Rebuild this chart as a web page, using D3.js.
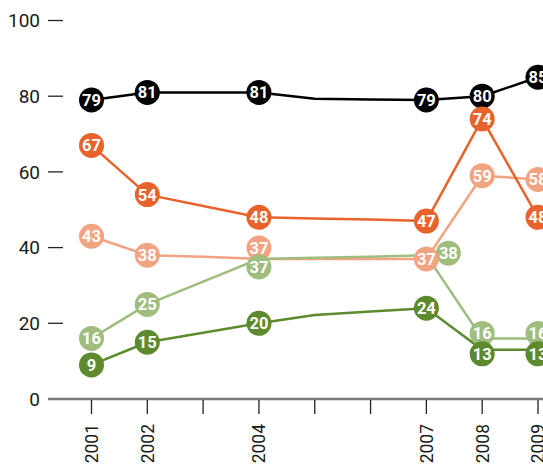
<!DOCTYPE html>
<html><head><meta charset="utf-8">
<script src="https://cdn.jsdelivr.net/npm/d3@7/dist/d3.min.js"></script>
<style>
html,body{margin:0;padding:0;background:#fff;}
svg{display:block;}
</style></head>
<body>
<svg id="chart" width="543" height="464"></svg>
<script>
// ---- data ----
const years = [2001, 2002, 2003, 2004, 2005, 2006, 2007, 2008, 2009];
const labeledYears = [2001, 2002, 2004, 2007, 2008, 2009];
const yTicks = [0, 20, 40, 60, 80, 100];
const blackValues       = [79, 81, 81, 81, 79.3, 79.1, 79, 80, 85];
const orangeValues      = [67, 54, 51, 48, 47.7, 47.4, 47, 74, 48];
const lightOrangeValues = [43, 38, 37.6, 37, 37, 37, 37, 59, 58];
const lightGreenValues  = [16, 25, 31, 37, 37.3, 37.6, 38, 16, 16];
const darkGreenValues   = [9, 15, 17.5, 20, 22.2, 23.1, 24, 13, 13];

// ---- layout / style ----
const series = [
  {name: "black", values: blackValues, color: "#000000"},
  {name: "lightOrange", values: lightOrangeValues, color: "#f2a381"},
  {name: "lightGreen", values: lightGreenValues, color: "#9fbd7f"},
  {name: "orange", values: orangeValues, color: "#e8632b"},
  {name: "darkGreen", values: darkGreenValues, color: "#5c8a2c"}
];
// label-avoidance nudges (pixels) for overlapping markers
const markerNudges = [
  {name: "lightOrange", year: 2004, dx: 0, dy: -11},
  {name: "lightGreen", year: 2004, dx: 0, dy: 8},
  {name: "lightGreen", year: 2007, dx: 22, dy: -2},
  {name: "lightGreen", year: 2008, dx: 0, dy: -5},
  {name: "lightGreen", year: 2009, dx: 0, dy: -5},
  {name: "darkGreen", year: 2008, dx: 0, dy: 4},
  {name: "darkGreen", year: 2009, dx: 0, dy: 4}
];

const svg = d3.select("#chart");
const x = d3.scaleLinear().domain([2001, 2009]).range([91.5, 538]);
const y = d3.scaleLinear().domain([0, 100]).range([399, 20.5]);
const font = "Roboto, 'DejaVu Sans', sans-serif";

// y axis: labels + short dashes
const yAxis = svg.append("g");
yTicks.forEach(t => {
  yAxis.append("line").attr("x1", 48).attr("x2", 63)
    .attr("y1", y(t)).attr("y2", y(t))
    .attr("stroke", "#222").attr("stroke-width", 1.3);
  yAxis.append("text").attr("x", 40).attr("y", y(t))
    .attr("dy", "0.36em").attr("text-anchor", "end")
    .attr("font-family", font).attr("font-weight", 400)
    .attr("font-size", 19).attr("fill", "#1a1a1a").text(t);
});

// x axis
const xg = svg.append("g");
xg.append("line").attr("x1", 48).attr("x2", 543)
  .attr("y1", y(0)).attr("y2", y(0))
  .attr("stroke", "#7a7a7a").attr("stroke-width", 2.5);
years.forEach(yr => {
  xg.append("line").attr("x1", x(yr)).attr("x2", x(yr))
    .attr("y1", y(0) + 1).attr("y2", y(0) + 15)
    .attr("stroke", "#222").attr("stroke-width", 1.3);
});
labeledYears.forEach(yr => {
  xg.append("text")
    .attr("transform", `translate(${x(yr)},${y(0) + 25}) rotate(-90)`)
    .attr("text-anchor", "end").attr("dy", "0.36em")
    .attr("font-family", font).attr("font-weight", 400)
    .attr("font-size", 17.5).attr("fill", "#1a1a1a").text(yr);
});

// lines
const line = d3.line().x((d, i) => x(years[i])).y(d => y(d));
series.forEach(s => {
  svg.append("path").datum(s.values).attr("d", line)
    .attr("fill", "none").attr("stroke", s.color)
    .attr("stroke-width", 2.5).attr("stroke-linejoin", "round");
});

// markers
const markers = [];
series.forEach((s, si) => {
  years.forEach((yr, i) => {
    if (!labeledYears.includes(yr)) return;
    const n = markerNudges.find(m => m.name === s.name && m.year === yr) || {dx: 0, dy: 0};
    markers.push({s, yr, v: s.values[i], dx: n.dx, dy: n.dy, order: n.dx ? -1 : si});
  });
});
markers.sort((a, b) => a.order - b.order);
const mg = svg.append("g");
markers.forEach(m => {
  const cx = x(m.yr) + m.dx, cy = y(m.v) + m.dy;
  mg.append("circle").attr("cx", cx).attr("cy", cy).attr("r", 12.5)
    .attr("fill", m.s.color);
  mg.append("text").attr("x", cx).attr("y", cy).attr("dy", "0.36em")
    .attr("text-anchor", "middle").attr("font-family", font)
    .attr("font-weight", 700).attr("font-size", 16.5)
    .attr("fill", "#fff").text(Math.round(m.v));
});
</script>
</body></html>
